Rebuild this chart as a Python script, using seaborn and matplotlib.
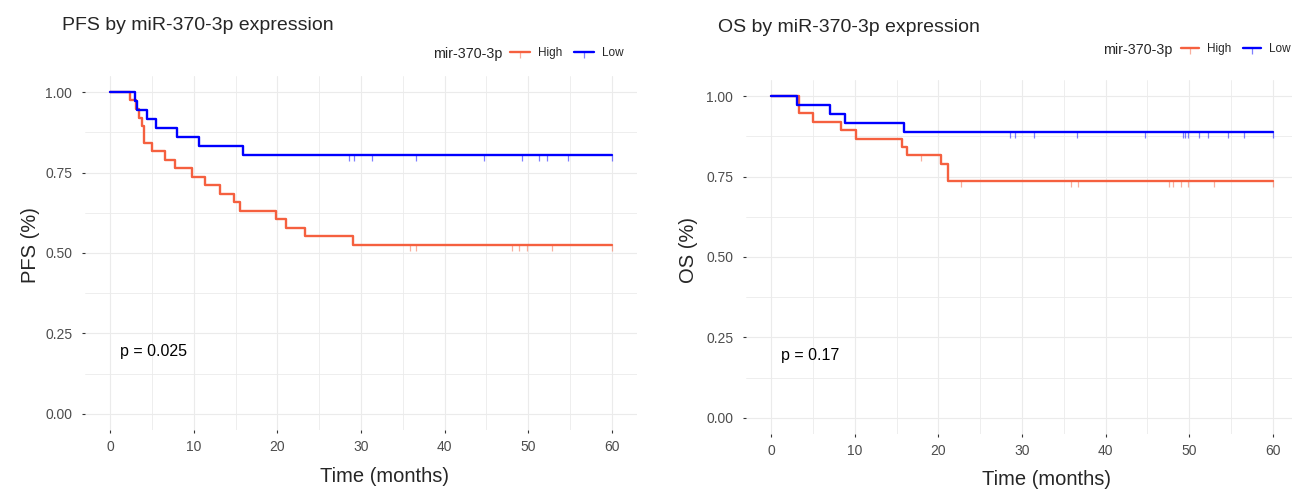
import numpy as np
import pandas as pd
import matplotlib
matplotlib.use("Agg")
import matplotlib.pyplot as plt
from matplotlib.lines import Line2D
from matplotlib.ticker import MultipleLocator, FormatStrFormatter
import seaborn as sns

# Kaplan-Meier step curves (time in months, survival prob.)
pfs_high_time = [0, 2.4, 3.1, 3.5, 3.8, 4.0, 5.0, 6.6, 7.8, 9.8, 11.4, 13.1, 14.8, 15.5, 19.8, 21.0, 23.3, 29.0, 60]
pfs_high_surv = [1.000, 0.974, 0.947, 0.921, 0.895, 0.842, 0.816, 0.789, 0.763, 0.737, 0.711, 0.684, 0.658, 0.632,
                 0.605, 0.579, 0.553, 0.526, 0.526]
pfs_high_cens = [35.8, 36.6, 48.1, 48.9, 49.8, 52.8, 60]

pfs_low_time = [0, 3.0, 3.2, 4.4, 5.5, 8.0, 10.6, 15.9, 60]
pfs_low_surv = [1.000, 0.972, 0.944, 0.917, 0.889, 0.861, 0.833, 0.806, 0.806]
pfs_low_cens = [28.6, 29.2, 31.3, 36.6, 44.7, 49.2, 51.3, 52.2, 54.7, 60]

os_high_time = [0, 3.3, 5.0, 8.3, 10.1, 15.6, 16.2, 20.3, 21.1, 60]
os_high_surv = [1.000, 0.947, 0.921, 0.895, 0.868, 0.842, 0.816, 0.789, 0.737, 0.737]
os_high_cens = [17.9, 22.7, 35.8, 36.7, 47.6, 48.1, 49.0, 49.9, 52.9, 60]

os_low_time = [0, 3.1, 7.0, 8.8, 15.9, 60]
os_low_surv = [1.000, 0.972, 0.944, 0.917, 0.889, 0.889]
os_low_cens = [28.6, 29.2, 31.4, 36.6, 44.7, 49.2, 49.5, 49.8, 51.2, 52.2, 54.6, 56.6, 60]

groups = ["High", "Low"]
colors = {"High": "#F5603F", "Low": "#0000FF"}
x_ticks = [0, 10, 20, 30, 40, 50, 60]
y_ticks = [0.00, 0.25, 0.50, 0.75, 1.00]

sns.set_theme(style="white")
plt.rcParams["font.family"] = ["Liberation Sans", "DejaVu Sans"]

W, H = 1292, 490
fig = plt.figure(figsize=(W / 100, H / 100), dpi=100)
ax1 = fig.add_axes([85 / W, 1 - 430 / H, 552 / W, 354 / H])
ax2 = fig.add_axes([746 / W, 1 - 434 / H, 552 / W, 354 / H])


def surv_at(times, surv, t):
    idx = np.searchsorted(times, t, side="right") - 1
    return np.asarray(surv)[idx]


def draw_panel(ax, curves, pval):
    rows = []
    for g, (t, s, c) in curves.items():
        rows += [{"time": a, "surv": b, "group": g} for a, b in zip(t, s)]
    df = pd.DataFrame(rows)
    sns.lineplot(data=df, x="time", y="surv", hue="group", palette=colors,
                 estimator=None, sort=False, drawstyle="steps-post",
                 linewidth=1.7, legend=False, ax=ax, zorder=3)
    for g, (t, s, c) in curves.items():
        ax.plot(c, surv_at(t, s, c), ls="none", marker=3, ms=4.5, mew=0.9,
                color=colors[g], alpha=0.5, zorder=4)

    ax.set_xlim(-3, 63)
    ax.set_ylim(-0.05, 1.05)
    ax.set_xticks(x_ticks)
    ax.set_yticks(y_ticks)
    ax.xaxis.set_minor_locator(MultipleLocator(5))
    ax.yaxis.set_minor_locator(MultipleLocator(0.125))
    ax.yaxis.set_major_formatter(FormatStrFormatter("%.2f"))
    ax.grid(True, which="major", color="#EBEBEB", linewidth=0.8)
    ax.grid(True, which="minor", color="#EBEBEB", linewidth=0.6)
    ax.set_axisbelow(True)
    for sp in ax.spines.values():
        sp.set_visible(False)
    ax.tick_params(axis="both", which="major", length=2.2, width=0.8, color="#333333",
                   labelsize=10, labelcolor="#4D4D4D", bottom=True, left=True)
    ax.tick_params(axis="y", pad=7)
    ax.tick_params(axis="x", pad=5)
    ax.tick_params(which="minor", length=0)
    ax.set_xlabel("")
    ax.set_ylabel("")
    ax.text(1.2, 0.195, pval, fontsize=11.5, ha="left", va="center", color="black")


draw_panel(ax1, {"High": (pfs_high_time, pfs_high_surv, pfs_high_cens),
                 "Low": (pfs_low_time, pfs_low_surv, pfs_low_cens)}, "p = 0.025")
draw_panel(ax2, {"High": (os_high_time, os_high_surv, os_high_cens),
                 "Low": (os_low_time, os_low_surv, os_low_cens)}, "p = 0.17")

# titles and axis labels
fig.text(62 / W, 1 - 25 / H, "PFS by miR-370-3p expression", fontsize=14, ha="left", va="center")
fig.text(718 / W, 1 - 28 / H, "OS by miR-370-3p expression", fontsize=14, ha="left", va="center")
fig.text(31 / W, 1 - 245 / H, "PFS (%)", fontsize=14.5, rotation=90, ha="center", va="center")
fig.text(688 / W, 1 - 250 / H, "OS (%)", fontsize=14.5, rotation=90, ha="center", va="center")
fig.text(385 / W, 1 - 476 / H, "Time (months)", fontsize=14.5, ha="center", va="center")
fig.text(1046 / W, 1 - 479 / H, "Time (months)", fontsize=14.5, ha="center", va="center")


def legend_handles():
    hs = []
    for g in groups:
        line = Line2D([], [], color=colors[g], lw=1.7)
        tick = Line2D([], [], color=colors[g], ls="none", marker=3, ms=4.5, mew=0.9, alpha=0.5)
        hs.append((line, tick))
    return hs


for title_x, title_y, leg_x, hlen in [(433, 54, 510, 1.7), (1103, 50, 1181, 1.55)]:
    fig.text(title_x / W, 1 - title_y / H, "mir-370-3p", fontsize=10.3, ha="left", va="center")
    fig.legend(legend_handles(), groups, loc="center left",
               bbox_to_anchor=(leg_x / W, 1 - (title_y - 1) / H), bbox_transform=fig.transFigure,
               ncol=2, frameon=False, fontsize=8.5, borderpad=0, borderaxespad=0,
               handlelength=hlen, handletextpad=0.68, columnspacing=0.95, numpoints=1)

fig.savefig("out.png", dpi=100)
